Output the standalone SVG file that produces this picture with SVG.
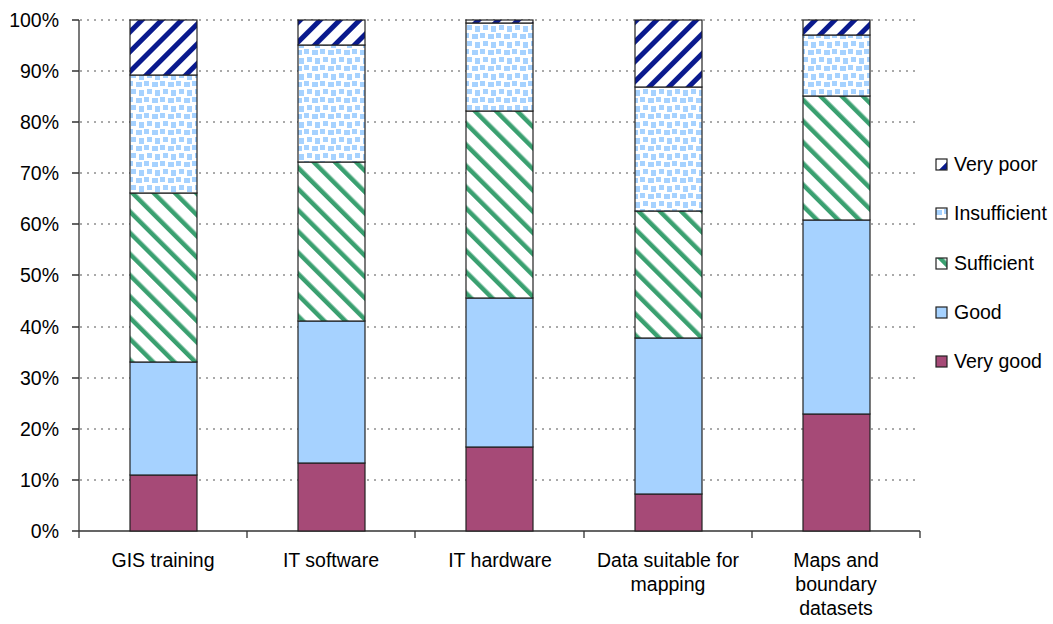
<svg xmlns="http://www.w3.org/2000/svg" width="1053" height="624" viewBox="0 0 1053 624">
<style>
text{font-family:"Liberation Sans",Arial,sans-serif;font-size:19.5px;fill:#000}
.yl{text-anchor:end}
.xl{text-anchor:middle}
.grid{stroke:#555;stroke-width:1;stroke-dasharray:2,5}
.ax{stroke:#333;stroke-width:1.3;fill:none}
.seg{stroke:#222;stroke-width:1.2}
.vg{fill:#a64a77}
.gd{fill:#a6d2ff}
.sf{fill:url(#pSuf)}
.ins{fill:url(#pIns)}
.vp{fill:url(#pVp)}
</style>
<defs>
<pattern id="pVp" width="14" height="14" patternUnits="userSpaceOnUse" patternTransform="rotate(45)">
<rect width="14" height="14" fill="#fff"/>
<rect x="0" y="0" width="5" height="14" fill="#0a1a8e"/>
</pattern>
<pattern id="pSuf" width="15" height="15" patternUnits="userSpaceOnUse" patternTransform="rotate(-45)">
<rect width="15" height="15" fill="#fff"/>
<rect x="0" y="0" width="4.5" height="15" fill="#3aa070"/>
</pattern>
<pattern id="pIns" width="16" height="16" patternUnits="userSpaceOnUse">
<rect width="16" height="16" fill="#fff"/>
<g fill="#a6d2ff">
<rect x="0" y="1" width="5" height="5"/>
<rect x="8" y="2" width="6" height="5"/>
<rect x="3" y="9" width="5" height="5"/>
<rect x="11" y="10" width="5" height="6"/>
</g>
</pattern>
</defs>
<rect width="1053" height="624" fill="#fff"/>
<g id="grid">
<line class="grid" x1="80" y1="20" x2="920" y2="20"/>
<line class="grid" x1="80" y1="71" x2="920" y2="71"/>
<line class="grid" x1="80" y1="122" x2="920" y2="122"/>
<line class="grid" x1="80" y1="173" x2="920" y2="173"/>
<line class="grid" x1="80" y1="224" x2="920" y2="224"/>
<line class="grid" x1="80" y1="275" x2="920" y2="275"/>
<line class="grid" x1="80" y1="327" x2="920" y2="327"/>
<line class="grid" x1="80" y1="378" x2="920" y2="378"/>
<line class="grid" x1="80" y1="429" x2="920" y2="429"/>
<line class="grid" x1="80" y1="480" x2="920" y2="480"/>
</g>
<g id="axes">
<path class="ax" d="M79 20V531M72 20H79M72 71H79M72 122H79M72 173H79M72 224H79M72 275H79M72 327H79M72 378H79M72 429H79M72 480H79M72 531H79"/>
<path class="ax" d="M79 531H920M79 531V538M247 531V538M415 531V538M584 531V538M752 531V538M920 531V538"/>
</g>
<g id="ylabels">
<text class="yl" x="59" y="27">100%</text>
<text class="yl" x="59" y="78">90%</text>
<text class="yl" x="59" y="129">80%</text>
<text class="yl" x="59" y="180">70%</text>
<text class="yl" x="59" y="231">60%</text>
<text class="yl" x="59" y="282">50%</text>
<text class="yl" x="59" y="334">40%</text>
<text class="yl" x="59" y="385">30%</text>
<text class="yl" x="59" y="436">20%</text>
<text class="yl" x="59" y="487">10%</text>
<text class="yl" x="59" y="538">0%</text>
</g>
<g id="bar1">
<rect class="seg vg" x="130" y="475" width="67" height="56"/>
<rect class="seg gd" x="130" y="362" width="67" height="113"/>
<rect class="seg sf" x="130" y="193" width="67" height="169"/>
<rect class="seg ins" x="130" y="75" width="67" height="118"/>
<rect class="seg vp" x="130" y="20" width="67" height="55"/>
</g>
<g id="bar2">
<rect class="seg vg" x="298" y="463" width="67" height="68"/>
<rect class="seg gd" x="298" y="321" width="67" height="142"/>
<rect class="seg sf" x="298" y="162" width="67" height="159"/>
<rect class="seg ins" x="298" y="45" width="67" height="117"/>
<rect class="seg vp" x="298" y="20" width="67" height="25"/>
</g>
<g id="bar3">
<rect class="seg vg" x="466" y="447" width="67" height="84"/>
<rect class="seg gd" x="466" y="298" width="67" height="149"/>
<rect class="seg sf" x="466" y="111" width="67" height="187"/>
<rect class="seg ins" x="466" y="23" width="67" height="88"/>
<rect class="seg vp" x="466" y="20" width="67" height="3"/>
</g>
<g id="bar4">
<rect class="seg vg" x="635" y="494" width="67" height="37"/>
<rect class="seg gd" x="635" y="338" width="67" height="156"/>
<rect class="seg sf" x="635" y="211" width="67" height="127"/>
<rect class="seg ins" x="635" y="87" width="67" height="124"/>
<rect class="seg vp" x="635" y="20" width="67" height="67"/>
</g>
<g id="bar5">
<rect class="seg vg" x="803" y="414" width="67" height="117"/>
<rect class="seg gd" x="803" y="220" width="67" height="194"/>
<rect class="seg sf" x="803" y="96" width="67" height="124"/>
<rect class="seg ins" x="803" y="35" width="67" height="61"/>
<rect class="seg vp" x="803" y="20" width="67" height="15"/>
</g>
<g id="xlabels">
<text class="xl" x="163" y="567">GIS training</text>
<text class="xl" x="331" y="567">IT software</text>
<text class="xl" x="500" y="567">IT hardware</text>
<text class="xl" x="668" y="567">Data suitable for</text>
<text class="xl" x="668" y="591">mapping</text>
<text class="xl" x="836" y="567">Maps and</text>
<text class="xl" x="836" y="591">boundary</text>
<text class="xl" x="836" y="615">datasets</text>
</g>
<g id="legend">
<rect class="seg vp" x="936" y="159" width="11" height="11"/>
<text x="954" y="171">Very poor</text>
<rect class="seg ins" x="936" y="208" width="11" height="11"/>
<text x="954" y="220">Insufficient</text>
<rect class="seg sf" x="936" y="258" width="11" height="11"/>
<text x="954" y="270">Sufficient</text>
<rect class="seg gd" x="936" y="307" width="11" height="11"/>
<text x="954" y="319">Good</text>
<rect class="seg vg" x="936" y="356" width="11" height="11"/>
<text x="954" y="368">Very good</text>
</g>
</svg>
